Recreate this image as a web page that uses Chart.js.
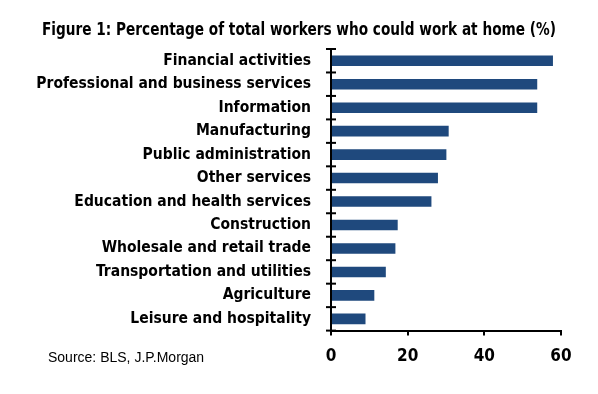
<!DOCTYPE html>
<html>
<head>
<meta charset="utf-8">
<script src="https://cdn.jsdelivr.net/npm/chart.js@4"></script>
<style>
  html,body{margin:0;padding:0;background:#fff;}
  #wrap{width:598px;height:394px;position:relative;}
</style>
</head>
<body>
<div id="wrap"><canvas id="chart" width="598" height="394"></canvas></div>
<script>
const TITLE = 'Figure 1: Percentage of total workers who could work at home (%)';
const SOURCE = 'Source: BLS, J.P.Morgan';
const categories = [
  'Financial activities',
  'Professional and business services',
  'Information',
  'Manufacturing',
  'Public administration',
  'Other services',
  'Education and health services',
  'Construction',
  'Wholesale and retail trade',
  'Transportation and utilities',
  'Agriculture',
  'Leisure and hospitality'
];
const shares = [57.9, 53.8, 53.8, 30.7, 30.1, 27.9, 26.2, 17.4, 16.8, 14.3, 11.3, 9.0];
const xTicks = [0, 20, 40, 60];

const FONT = "'Liberation Sans Narrow', 'Arial Narrow', 'DejaVu Sans Condensed', sans-serif";

// ticks on the category axis cross the axis line (both sides)
const crossTicks = {
  id: 'crossTicks',
  afterDraw(chart){
    const y = chart.scales.y, x = chart.scales.x;
    const ctx = chart.ctx;
    const x0 = x.getPixelForValue(0);
    ctx.save();
    ctx.strokeStyle = '#000';
    ctx.lineWidth = 2;
    for(let i=0;i<=categories.length;i++){
      const py = y.getPixelForValue(i - 0.5);
      ctx.beginPath(); ctx.moveTo(x0-5, py); ctx.lineTo(x0+5, py); ctx.stroke();
    }
    ctx.restore();
  }
};

// title (centred on the page, squeezed to look like a narrow face) and source note
const notes = {
  id: 'notes',
  afterDraw(chart){
    const ctx = chart.ctx;
    ctx.save();
    ctx.fillStyle = '#000';
    ctx.textBaseline = 'middle';
    ctx.textAlign = 'center';
    ctx.font = "bold 18px " + FONT;
    const w = ctx.measureText(TITLE).width;
    const sx = Math.min(1, 514 / w);
    ctx.translate(299, 30);
    ctx.scale(sx, 1);
    ctx.fillText(TITLE, 0, 0);
    ctx.restore();

    ctx.save();
    ctx.fillStyle = '#000';
    ctx.textBaseline = 'middle';
    ctx.textAlign = 'left';
    ctx.font = "14px 'Liberation Sans', Arial, sans-serif";
    ctx.fillText(SOURCE, 48, 358);
    ctx.restore();
  }
};

new Chart(document.getElementById('chart'), {
  type: 'bar',
  data: {
    labels: categories,
    datasets: [{
      data: shares,
      backgroundColor: '#1F497D',
      categoryPercentage: 1,
      barPercentage: 0.45
    }]
  },
  plugins: [crossTicks, notes],
  options: {
    indexAxis: 'y',
    responsive: false,
    animation: false,
    devicePixelRatio: 1,
    layout: { padding: { left: 0, right: 37, top: 49, bottom: 16 } },
    plugins: {
      legend: { display: false },
      tooltip: { enabled: false },
      title: { display: false }
    },
    scales: {
      x: {
        min: 0, max: 60,
        afterBuildTicks(scale){ scale.ticks = xTicks.map(v=>({value:v})); },
        border: { display: true, color: '#000', width: 2 },
        grid: { drawOnChartArea: false, drawTicks: true, tickLength: 5, color: '#000', lineWidth: 2 },
        ticks: { color: '#000', padding: 11, font: { family: FONT, size: 17, weight: 'bold' } }
      },
      y: {
        afterFit(scale){ scale.width = 331; },
        border: { display: true, color: '#000', width: 2 },
        grid: { drawOnChartArea: false, drawTicks: false },
        ticks: { color: '#000', padding: 20, autoSkip: false, font: { family: FONT, size: 15.5, weight: 'bold' } }
      }
    }
  }
});
</script>
</body>
</html>
